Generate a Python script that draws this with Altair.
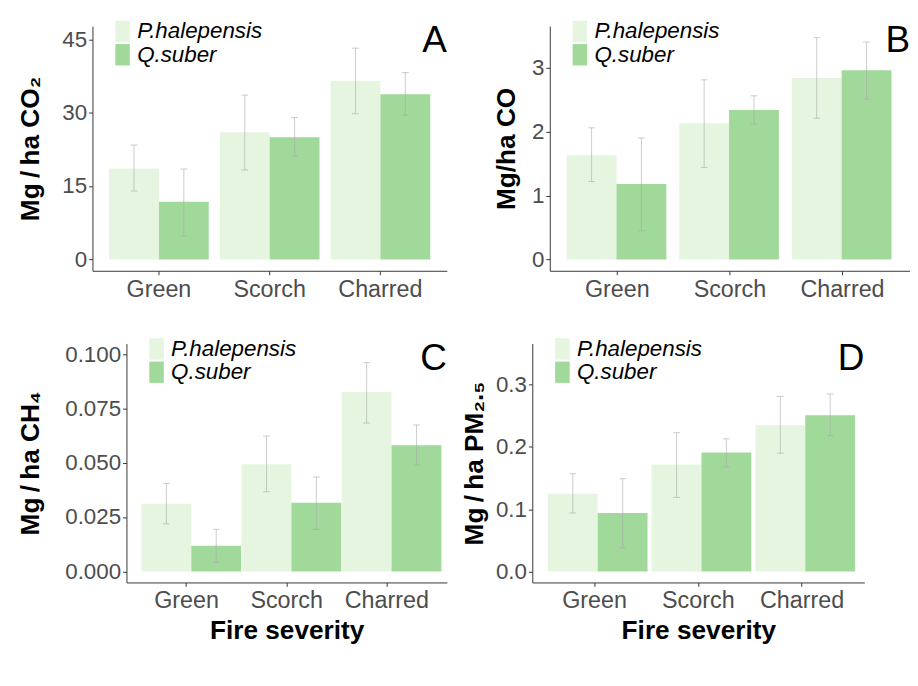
import altair as alt
import pandas as pd

severity = ["Green", "Scorch", "Charred"]
species = ["P.halepensis", "Q.suber"]

# panel A: CO2
co2_ph = [18.6, 26.0, 36.5]
co2_ph_lo = [14.0, 18.3, 29.8]
co2_ph_hi = [23.4, 33.6, 43.2]
co2_qs = [11.8, 25.0, 33.8]
co2_qs_lo = [4.8, 21.1, 29.5]
co2_qs_hi = [18.5, 29.0, 38.2]

# panel B: CO
co_ph = [1.63, 2.13, 2.84]
co_ph_lo = [1.22, 1.44, 2.21]
co_ph_hi = [2.06, 2.81, 3.47]
co_qs = [1.18, 2.34, 2.96]
co_qs_lo = [0.45, 2.12, 2.51]
co_qs_hi = [1.90, 2.56, 3.40]

# panel C: CH4
ch4_ph = [0.0312, 0.0494, 0.0827]
ch4_ph_lo = [0.0219, 0.0367, 0.0684]
ch4_ph_hi = [0.0405, 0.0624, 0.0962]
ch4_qs = [0.0118, 0.0316, 0.0582]
ch4_qs_lo = [0.0042, 0.0194, 0.0490]
ch4_qs_hi = [0.0194, 0.0435, 0.0675]

# panel D: PM2.5
pm_ph = [0.125, 0.172, 0.235]
pm_ph_lo = [0.094, 0.119, 0.190]
pm_ph_hi = [0.157, 0.223, 0.281]
pm_qs = [0.094, 0.191, 0.251]
pm_qs_lo = [0.038, 0.168, 0.218]
pm_qs_hi = [0.149, 0.213, 0.285]

colors = ["#e5f5e0", "#a1d99b"]
FONT = "Liberation Sans"
ERR = "#a8a8a8"


def make_df(ph, ph_lo, ph_hi, qs, qs_lo, qs_hi):
    rows = []
    for i, s in enumerate(severity):
        rows.append(dict(sev=s, sp=species[0], v=ph[i], lo=ph_lo[i], hi=ph_hi[i]))
        rows.append(dict(sev=s, sp=species[1], v=qs[i], lo=qs_lo[i], hi=qs_hi[i]))
    return pd.DataFrame(rows)


def panel(df, letter, ytitle, domain, ticks, fmt, width, height, show_xtitle, title_pad,
          shift=0):
    xaxis_kw = dict(labelAngle=0, labelFontSize=24, labelColor="#4d4d4d",
                    labelFont=FONT, tickSize=4, tickColor="#333333",
                    domainColor="#333333", labelPadding=3)
    if show_xtitle:
        xaxis_kw.update(title="Fire severity", titleFontSize=27, titleFont=FONT,
                        titleFontWeight="bold", titleColor="black", titlePadding=6)
    else:
        xaxis_kw.update(title="")
    xscale_kw = dict(paddingInner=0.1, paddingOuter=0.15)
    if shift:
        xscale_kw["range"] = [-shift, width]
    xenc = alt.X("sev:N", sort=severity, scale=alt.Scale(**xscale_kw),
                 axis=alt.Axis(**xaxis_kw))
    xoff = alt.XOffset("sp:N", sort=species, scale=alt.Scale(paddingInner=0, paddingOuter=0))
    yscale = alt.Scale(domain=domain, nice=False, zero=False)
    yaxis = alt.Axis(title=ytitle, values=ticks, format=fmt, grid=False, offset=shift,
                     labelFontSize=23, labelColor="#4d4d4d", labelFont=FONT,
                     tickSize=4, tickColor="#333333", domainColor="#333333",
                     labelPadding=2, titleFontSize=27, titleFont=FONT,
                     titleFontWeight="bold", titleColor="black", titlePadding=title_pad)
    bars = alt.Chart(df).mark_bar().encode(
        x=xenc, xOffset=xoff,
        y=alt.Y("v:Q", scale=yscale, axis=yaxis),
        y2=alt.Y2(datum=0),
        color=alt.Color("sp:N", sort=species,
                        scale=alt.Scale(domain=species, range=colors),
                        legend=alt.Legend(title=None, orient="none",
                                          legendX=19.5 - shift, legendY=-6,
                                          symbolType="M-0.68,-1H0.68V1H-0.68Z",
                                          symbolSize=484, symbolStrokeWidth=0,
                                          symbolOpacity=1,
                                          labelFontSize=23, labelFont=FONT,
                                          labelFontStyle="italic", labelColor="black",
                                          labelOffset=3.5, rowPadding=-1, padding=0)),
    )
    rules = alt.Chart(df).mark_rule(color=ERR, strokeWidth=1, opacity=0.6).encode(
        x=alt.X("sev:N", sort=severity), xOffset=xoff,
        y=alt.Y("lo:Q"), y2="hi:Q")
    cap_lo = alt.Chart(df).mark_tick(color=ERR, thickness=1, size=7, opacity=0.6).encode(
        x=alt.X("sev:N", sort=severity), xOffset=xoff, y=alt.Y("lo:Q"))
    cap_hi = alt.Chart(df).mark_tick(color=ERR, thickness=1, size=7, opacity=0.6).encode(
        x=alt.X("sev:N", sort=severity), xOffset=xoff, y=alt.Y("hi:Q"))
    lab = alt.Chart(pd.DataFrame({"t": [letter]})).mark_text(
        fontSize=38, font=FONT, color="black", align="right", baseline="alphabetic").encode(
        text="t:N", x=alt.value(width), y=alt.value(27))
    return alt.layer(bars, rules, cap_lo, cap_hi, lab).properties(width=width, height=height)


TS = "\u2009"
pA = panel(make_df(co2_ph, co2_ph_lo, co2_ph_hi, co2_qs, co2_qs_lo, co2_qs_hi),
           "A", f"Mg{TS}/{TS}ha CO₂", [-2.3, 47.7], [0, 15, 30, 45], "d", 330, 252, False, 18,
           shift=35)
pB = panel(make_df(co_ph, co_ph_lo, co_ph_hi, co_qs, co_qs_lo, co_qs_hi),
           "B", "Mg/ha CO", [-0.176, 3.65], [0, 1, 2, 3], "d", 371, 252, False, 12)
pC = panel(make_df(ch4_ph, ch4_ph_lo, ch4_ph_hi, ch4_qs, ch4_qs_lo, ch4_qs_hi),
           "C", f"Mg{TS}/{TS}ha CH₄", [-0.0051, 0.105], [0, 0.025, 0.05, 0.075, 0.1], ".3f",
           330, 246, True, 21)
pD = panel(make_df(pm_ph, pm_ph_lo, pm_ph_hi, pm_qs, pm_qs_lo, pm_qs_hi),
           "D", f"Mg{TS}/{TS}ha PM₂.₅", [-0.0176, 0.366], [0, 0.1, 0.2, 0.3], ".1f",
           342, 246, True, 7)

row1 = alt.hconcat(pA, pB, spacing=12).resolve_scale(
    x="independent", y="independent", color="independent").resolve_legend(color="independent")
row2 = alt.hconcat(pC, pD, spacing=15).resolve_scale(
    x="independent", y="independent", color="independent").resolve_legend(color="independent")

chart = alt.concat(row1, row2, columns=1, spacing=38).resolve_scale(
    x="independent", y="independent", color="independent").resolve_legend(
    color="independent").properties(
    padding={"left": 9, "top": 3, "right": 0, "bottom": 0}
).configure_view(stroke=None)

chart.save("out.html", embed_options={"renderer": "svg", "actions": False})
